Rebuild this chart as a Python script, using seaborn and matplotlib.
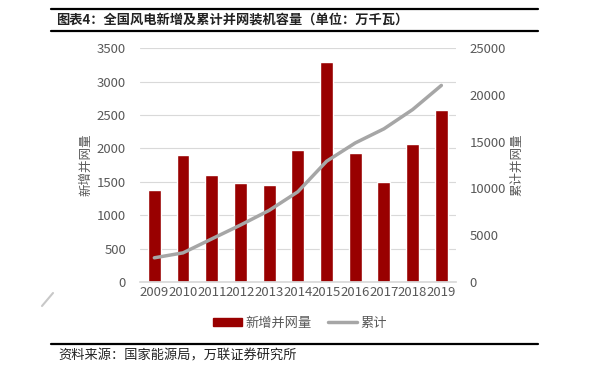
import matplotlib
matplotlib.use("Agg")
import matplotlib.pyplot as plt
import seaborn as sns
import numpy as np
import pandas as pd
from matplotlib.lines import Line2D
from matplotlib.patches import Patch

years = ["2009", "2010", "2011", "2012", "2013", "2014", "2015", "2016", "2017", "2018", "2019"]
new_grid = [1380, 1899, 1600, 1480, 1449, 1981, 3297, 1930, 1503, 2059, 2574]
cumulative = [2580, 3110, 4600, 6080, 7650, 9640, 12900, 14860, 16370, 18430, 21010]

sns.set_theme(style="white")
plt.rcParams["font.family"] = ["Noto Sans CJK SC", "DejaVu Sans"]

df = pd.DataFrame({"year": years, "new": new_grid, "cum": cumulative})

fig = plt.figure(figsize=(6.06, 3.70), dpi=100)
ax = fig.add_axes([0.231, 0.238, 0.521, 0.632])

sns.barplot(data=df, x="year", y="new", color="#990000", saturation=1, width=0.45, ax=ax)
ax.set_ylim(0, 3500)
ax.set_yticks(range(0, 3501, 500))
ax.yaxis.grid(True, color="#d9d9d9", linewidth=0.8)
ax.set_axisbelow(True)
for s in ax.spines.values():
    s.set_visible(False)
ax.spines["bottom"].set_visible(True)
ax.spines["bottom"].set_color("#d9d9d9")
ax.set_xlim(-0.5, len(years) - 0.5)
ax.tick_params(axis="y", length=0, labelsize=9.5, colors="#595959", pad=10)
ax.tick_params(axis="x", length=0, labelsize=9.5, colors="#595959", pad=3)
ax.set_xlabel("")
ax.set_ylabel("新增并网量", fontsize=9, color="#595959", labelpad=3)

ax2 = ax.twinx()
sns.lineplot(x=np.arange(len(years)), y=cumulative, color="#a6a6a6", linewidth=2.5, ax=ax2)
ax2.set_ylim(0, 25000)
ax2.set_yticks(range(0, 25001, 5000))
for s in ax2.spines.values():
    s.set_visible(False)
ax2.tick_params(axis="y", length=0, labelsize=9.5, colors="#595959", pad=10)
ax2.set_ylabel("累计并网量", fontsize=9, color="#595959", rotation=90, labelpad=3)
ax2.set_xlim(-0.5, len(years) - 0.5)

handles = [Patch(color="#990000"), Line2D([0], [0], color="#a6a6a6", linewidth=2.5)]
fig.legend(handles, ["新增并网量", "累计"], loc="center", bbox_to_anchor=(0.495, 0.127),
           ncol=2, frameon=False, fontsize=9.5, handlelength=2.2, handleheight=0.6,
           columnspacing=1.2, handletextpad=0.3, labelcolor="#595959")

# header and footer rules
fig.add_artist(Line2D([0.084, 0.888], [0.976, 0.976], color="black", linewidth=1.6))
fig.add_artist(Line2D([0.084, 0.888], [0.917, 0.917], color="black", linewidth=1.6))
fig.text(0.093, 0.947, "图表4：全国风电新增及累计并网装机容量（单位：万千瓦）",
         fontsize=9.5, fontweight="bold", color="#222222", va="center")
fig.add_artist(Line2D([0.084, 0.888], [0.069, 0.069], color="black", linewidth=1.6))
fig.text(0.097, 0.037, "资料来源：国家能源局，万联证券研究所", fontsize=9.5,
         style="italic", color="#222222", va="center")

# stray grey stroke at the left edge of the source image
fig.add_artist(Line2D([42 / 606, 53 / 606], [1 - 306 / 370, 1 - 293 / 370],
                      color="#c8c8c8", linewidth=1.5))

fig.savefig("out.png", dpi=100)
